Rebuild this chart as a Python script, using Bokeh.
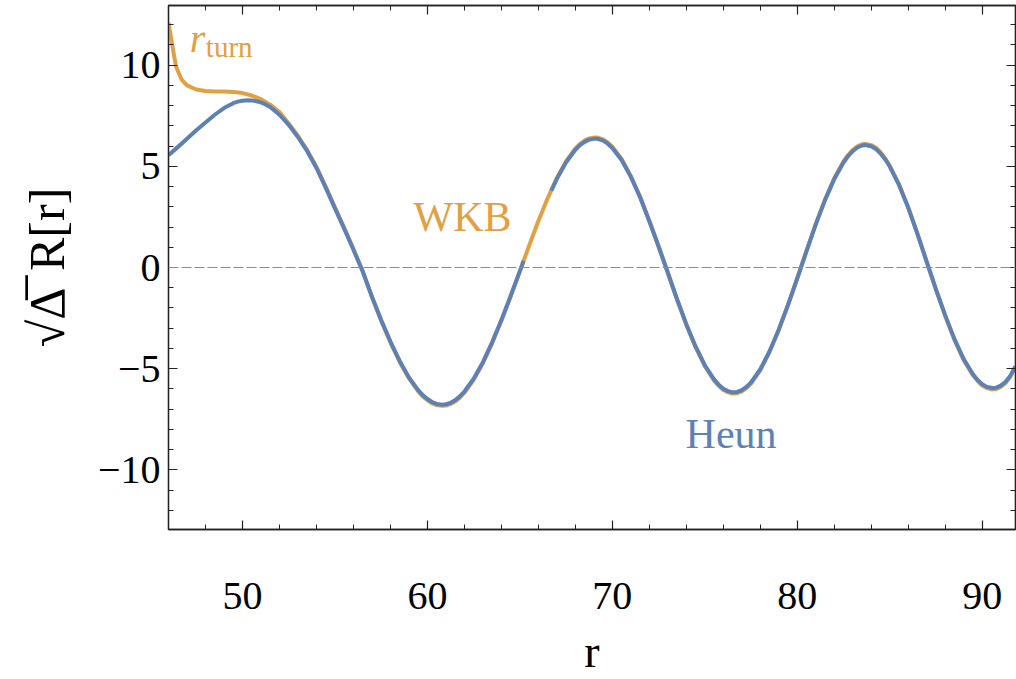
from bokeh.plotting import figure
from bokeh.models import (FixedTicker, LinearAxis, Span, Label, Range1d,
                          CustomJSTickFormatter)
from bokeh.embed import file_html
from bokeh.resources import INLINE

NAN = float("nan")

# ---- data ----
heun_r = [46.0, 46.5, 47.0, 47.5, 48.0, 48.5, 49.0, 49.5, 49.75, 50.0, 50.3, 50.5,
          50.75, 51.0, 51.25, 51.5, 52.0, 52.5, 53.0, 53.5, 54.0, 54.5, 55.0, 55.5,
          56.0, 56.5, 57.0, 57.5, 58.0, 58.5, 59.0, 59.5, 59.75, 60.0, 60.25, 60.5,
          60.8, 61.0, 61.25, 61.5, 61.75, 62.0, 62.5, 63.0, 63.5, 64.0, 64.5, 65.0,
          65.2, NAN, 66.7, 67.0, 67.5, 68.0, 68.25, 68.5, 68.75, 69.07, 69.25, 69.5,
          69.75, 70.0, 70.5, 71.0, 71.5, 72.0, 72.5, 73.0, 73.5, 74.0, 74.5, 75.0,
          75.5, 75.75, 76.0, 76.25, 76.5, 76.75, 77.0, 77.25, 77.5, 78.0, 78.5, 79.0,
          79.5, 80.0, 80.5, 81.0, 81.5, 82.0, 82.5, 82.75, 83.0, 83.25, 83.5, 83.7,
          84.0, 84.25, 84.5, 84.75, 85.0, 85.5, 86.0, 86.5, 87.0, 87.5, 88.0, 88.5,
          89.0, 89.5, 89.75, 90.0, 90.25, 90.56, 90.75, 91.0, 91.25, 91.5, 91.8]
heun_v = [5.55, 5.95, 6.36, 6.78, 7.17, 7.55, 7.88, 8.12, 8.20, 8.24, 8.27, 8.26,
          8.22, 8.16, 8.06, 7.93, 7.55, 7.05, 6.45, 5.75, 4.92, 3.95, 2.92, 1.92,
          0.88, -0.20, -1.44, -2.60, -3.66, -4.62, -5.43, -6.06, -6.31, -6.50, -6.65, -6.74,
          -6.78, -6.76, -6.69, -6.56, -6.37, -6.13, -5.50, -4.68, -3.70, -2.60, -1.41, -0.18,
          0.33, NAN, 3.80, 4.38, 5.20, 5.82, 6.05, 6.21, 6.32, 6.37, 6.35, 6.27,
          6.12, 5.91, 5.31, 4.48, 3.47, 2.29, 1.04, -0.26, -1.57, -2.80, -3.90, -4.83,
          -5.53, -5.79, -5.99, -6.11, -6.17, -6.15, -6.06, -5.90, -5.68, -5.03, -4.14, -3.06,
          -1.84, -0.53, 0.81, 2.13, 3.33, 4.37, 5.19, 5.51, 5.75, 5.93, 6.03, 6.05,
          5.99, 5.86, 5.64, 5.35, 4.99, 4.08, 2.95, 1.65, 0.28, -1.08, -2.37, -3.54,
          -4.53, -5.28, -5.56, -5.77, -5.90, -5.96, -5.94, -5.84, -5.66, -5.38, -4.88]

wkb_r = [46.0, 46.2, 46.4, 46.7, 47.0, 47.5, 48.0, 48.5, 49.0, 49.5, 50.0, 50.5,
         51.0, 51.5, 52.0, 52.5, 53.0, 53.5, 54.0, 54.5, 55.0, 55.5, 56.0, 56.5,
         57.0, 57.5, 58.0, 58.5, 59.0, 59.5, 59.75, 60.0, 60.25, 60.5, 60.8, 61.0,
         61.25, 61.5, 61.75, 62.0, 62.5, 63.0, 63.5, 64.0, 64.5, 65.0, 65.5, 66.0,
         66.5, 67.0, 67.5, 68.0, 68.25, 68.5, 68.75, 69.07, 69.25, 69.5, 69.75, 70.0,
         70.5, 71.0, 71.5, 72.0, 72.5, 73.0, 73.5, 74.0, 74.5, 75.0, 75.5, 75.75,
         76.0, 76.25, 76.5, 76.75, 77.0, 77.25, 77.5, 78.0, 78.5, 79.0, 79.5, 80.0,
         80.5, 81.0, 81.5, 82.0, 82.5, 82.75, 83.0, 83.25, 83.5, 83.7, 84.0, 84.25,
         84.5, 84.75, 85.0, 85.5, 86.0, 86.5, 87.0, 87.5, 88.0, 88.5, 89.0, 89.5,
         89.75, 90.0, 90.25, 90.5, 90.75, 91.0, 91.25, 91.5, 91.8]
wkb_v = [12.1, 11.0, 9.95, 9.3, 9.0, 8.8, 8.72, 8.7, 8.7, 8.68, 8.62, 8.5,
         8.32, 8.05, 7.68, 7.12, 6.50, 5.80, 4.98, 4.00, 2.97, 1.96, 0.92, -0.17,
         -1.46, -2.63, -3.70, -4.67, -5.48, -6.12, -6.37, -6.56, -6.71, -6.80, -6.84, -6.82,
         -6.75, -6.62, -6.43, -6.19, -5.55, -4.73, -3.74, -2.63, -1.42, -0.18, 1.08, 2.30,
         3.42, 4.42, 5.25, 5.88, 6.11, 6.27, 6.38, 6.43, 6.41, 6.33, 6.18, 5.97,
         5.36, 4.52, 3.50, 2.31, 1.05, -0.26, -1.59, -2.83, -3.94, -4.88, -5.59, -5.85,
         -6.05, -6.17, -6.23, -6.21, -6.12, -5.96, -5.74, -5.08, -4.18, -3.09, -1.86, -0.54,
         0.82, 2.15, 3.36, 4.41, 5.24, 5.56, 5.81, 5.99, 6.09, 6.11, 6.05, 5.92,
         5.70, 5.40, 5.04, 4.12, 2.98, 1.67, 0.28, -1.09, -2.39, -3.58, -4.58, -5.33,
         -5.61, -5.83, -5.96, -6.02, -6.00, -5.90, -5.72, -5.43, -4.92]

x_major = [50, 60, 70, 80, 90]
x_minor = [46, 48, 52, 54, 56, 58, 62, 64, 66, 68, 72, 74, 76, 78, 82, 84, 86, 88, 92]
y_major = [-10, -5, 0, 5, 10]
y_minor = [-12, -11, -9, -8, -7, -6, -4, -3, -2, -1, 1, 2, 3, 4, 6, 7, 8, 9, 11, 12]

BLUE = "#5E81B5"
ORANGE = "#E1A044"
FONT = "Liberation Serif"

p = figure(width=1016, height=679, x_range=Range1d(46, 91.8),
           y_range=Range1d(-12.95, 12.95), output_backend="svg",
           toolbar_location=None, min_border_left=168, min_border_right=1,
           min_border_top=5, min_border_bottom=150)
p.background_fill_color = "white"
p.border_fill_color = "white"
p.grid.visible = False
p.outline_line_color = "#222222"
p.outline_line_width = 1.3

minus_fmt = CustomJSTickFormatter(code="return tick < 0 ? '\u2212' + Math.abs(tick) : String(tick);")
blank_fmt = CustomJSTickFormatter(code="return '';")


def style_axis(ax, ticks, minors, labels=True):
    ax.ticker = FixedTicker(ticks=ticks, minor_ticks=minors)
    ax.axis_line_color = "#222222"
    ax.axis_line_width = 1.3
    ax.major_tick_line_color = "#222222"
    ax.minor_tick_line_color = "#222222"
    ax.major_tick_line_width = 1.2
    ax.minor_tick_line_width = 1.0
    ax.major_tick_in = 9
    ax.major_tick_out = 0
    ax.minor_tick_in = 5
    ax.minor_tick_out = 0
    if labels:
        ax.formatter = minus_fmt
        ax.major_label_text_font = FONT
        ax.major_label_text_font_size = "40px"
        ax.major_label_text_color = "black"
    else:
        ax.formatter = blank_fmt
        ax.major_label_standoff = 0


xa = p.xaxis[0]
style_axis(xa, x_major, x_minor)
xa.major_label_standoff = 53
xa.axis_label = "r"
xa.axis_label_text_font = FONT
xa.axis_label_text_font_size = "46px"
xa.axis_label_text_font_style = "normal"
xa.axis_label_text_color = "black"
xa.axis_label_standoff = 14

ya = p.yaxis[0]
style_axis(ya, y_major, y_minor)
ya.major_label_standoff = 8
ya.axis_label = "\u221a\u0394\u0305\u2004R[r]"
ya.axis_label_text_font = FONT
ya.axis_label_text_font_size = "50px"
ya.axis_label_text_font_style = "normal"
ya.axis_label_text_color = "black"
ya.axis_label_standoff = 20

top = LinearAxis()
style_axis(top, x_major, x_minor, labels=False)
p.add_layout(top, "above")
right = LinearAxis()
style_axis(right, y_major, y_minor, labels=False)
p.add_layout(right, "right")

p.add_layout(Span(location=0, dimension="width", line_color="#8c8c8c",
                  line_width=1.2, line_dash="10 3"))

p.line(wkb_r, wkb_v, line_color=ORANGE, line_width=4, line_join="round")
p.line(heun_r, heun_v, line_color=BLUE, line_width=4, line_join="round")

p.add_layout(Label(x=47.15, y=11.3, text="r", text_font=FONT, text_font_style="italic",
                   text_font_size="40px", text_color=ORANGE, text_baseline="alphabetic"))
p.add_layout(Label(x=48.02, y=10.9, text="turn", text_font=FONT,
                   text_font_size="29px", text_color=ORANGE, text_baseline="alphabetic"))
p.add_layout(Label(x=59.25, y=2.5, text="WKB", text_font=FONT,
                   text_font_size="42px", text_color=ORANGE, text_baseline="alphabetic"))
p.add_layout(Label(x=73.96, y=-8.25, text="Heun", text_font=FONT,
                   text_font_size="42px", text_color=BLUE, text_baseline="alphabetic"))

open("out.html", "w").write(file_html(p, INLINE))
